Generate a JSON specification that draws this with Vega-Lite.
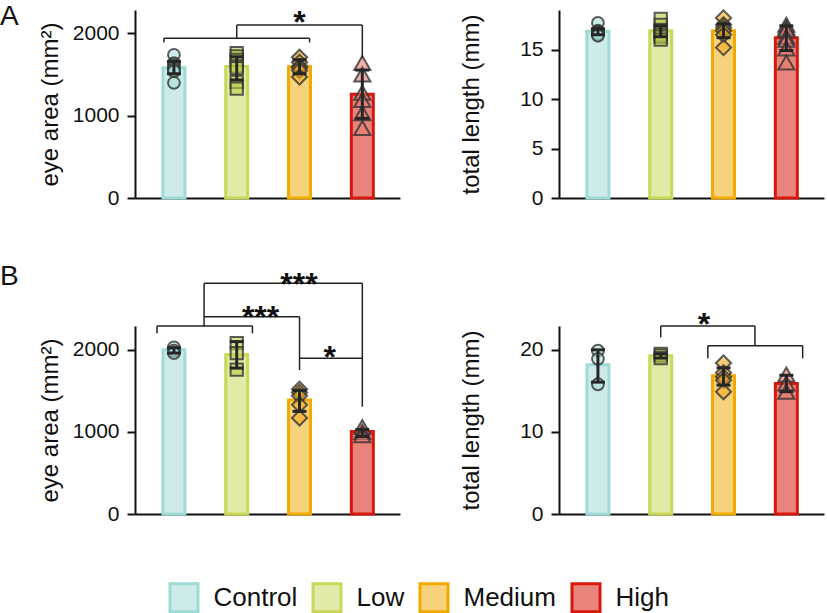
{
  "$schema": "https://vega.github.io/schema/vega-lite/v6.json",
  "autosize": {"type": "none"},
  "padding": {"left": 135, "top": 10, "right": 692, "bottom": 603},
  "bounds": "flush",
  "columns": 2,
  "spacing": {"row": 128, "column": 159},
  "datasets": {
    "points": [
      {"panel": "A1", "grp": "Control", "pos": 1, "v": 1740, "rep": 4},
      {"panel": "A1", "grp": "Control", "pos": 1, "v": 1640, "rep": 6},
      {"panel": "A1", "grp": "Control", "pos": 1, "v": 1620, "rep": 2},
      {"panel": "A1", "grp": "Control", "pos": 1, "v": 1580, "rep": 5},
      {"panel": "A1", "grp": "Control", "pos": 1, "v": 1560, "rep": 3},
      {"panel": "A1", "grp": "Control", "pos": 1, "v": 1540, "rep": 7},
      {"panel": "A1", "grp": "Control", "pos": 1, "v": 1400, "rep": 4},
      {"panel": "A1", "grp": "Low", "pos": 2, "v": 1760, "rep": 6},
      {"panel": "A1", "grp": "Low", "pos": 2, "v": 1720, "rep": 5},
      {"panel": "A1", "grp": "Low", "pos": 2, "v": 1680, "rep": 7},
      {"panel": "A1", "grp": "Low", "pos": 2, "v": 1600, "rep": 3},
      {"panel": "A1", "grp": "Low", "pos": 2, "v": 1580, "rep": 2},
      {"panel": "A1", "grp": "Low", "pos": 2, "v": 1410, "rep": 4},
      {"panel": "A1", "grp": "Low", "pos": 2, "v": 1330, "rep": 4},
      {"panel": "A1", "grp": "Medium", "pos": 3, "v": 1710, "rep": 5},
      {"panel": "A1", "grp": "Medium", "pos": 3, "v": 1650, "rep": 3},
      {"panel": "A1", "grp": "Medium", "pos": 3, "v": 1600, "rep": 6},
      {"panel": "A1", "grp": "Medium", "pos": 3, "v": 1580, "rep": 2},
      {"panel": "A1", "grp": "Medium", "pos": 3, "v": 1550, "rep": 4},
      {"panel": "A1", "grp": "Medium", "pos": 3, "v": 1470, "rep": 4},
      {"panel": "A1", "grp": "High", "pos": 4, "v": 1640, "rep": 4},
      {"panel": "A1", "grp": "High", "pos": 4, "v": 1500, "rep": 4},
      {"panel": "A1", "grp": "High", "pos": 4, "v": 1280, "rep": 3},
      {"panel": "A1", "grp": "High", "pos": 4, "v": 1190, "rep": 5},
      {"panel": "A1", "grp": "High", "pos": 4, "v": 1030, "rep": 4},
      {"panel": "A1", "grp": "High", "pos": 4, "v": 850, "rep": 4},
      {"panel": "A2", "grp": "Control", "pos": 1, "v": 17.7, "rep": 4},
      {"panel": "A2", "grp": "Control", "pos": 1, "v": 16.9, "rep": 2},
      {"panel": "A2", "grp": "Control", "pos": 1, "v": 16.8, "rep": 6},
      {"panel": "A2", "grp": "Control", "pos": 1, "v": 16.7, "rep": 3},
      {"panel": "A2", "grp": "Control", "pos": 1, "v": 16.6, "rep": 5},
      {"panel": "A2", "grp": "Control", "pos": 1, "v": 16.5, "rep": 7},
      {"panel": "A2", "grp": "Control", "pos": 1, "v": 16.4, "rep": 1},
      {"panel": "A2", "grp": "Low", "pos": 2, "v": 18.1, "rep": 2},
      {"panel": "A2", "grp": "Low", "pos": 2, "v": 17.5, "rep": 6},
      {"panel": "A2", "grp": "Low", "pos": 2, "v": 17.0, "rep": 4},
      {"panel": "A2", "grp": "Low", "pos": 2, "v": 16.8, "rep": 1},
      {"panel": "A2", "grp": "Low", "pos": 2, "v": 16.5, "rep": 7},
      {"panel": "A2", "grp": "Low", "pos": 2, "v": 16.3, "rep": 3},
      {"panel": "A2", "grp": "Low", "pos": 2, "v": 16.0, "rep": 5},
      {"panel": "A2", "grp": "Medium", "pos": 3, "v": 18.2, "rep": 6},
      {"panel": "A2", "grp": "Medium", "pos": 3, "v": 17.5, "rep": 2},
      {"panel": "A2", "grp": "Medium", "pos": 3, "v": 17.2, "rep": 5},
      {"panel": "A2", "grp": "Medium", "pos": 3, "v": 16.9, "rep": 3},
      {"panel": "A2", "grp": "Medium", "pos": 3, "v": 16.5, "rep": 7},
      {"panel": "A2", "grp": "Medium", "pos": 3, "v": 15.2, "rep": 4},
      {"panel": "A2", "grp": "High", "pos": 4, "v": 17.5, "rep": 4},
      {"panel": "A2", "grp": "High", "pos": 4, "v": 17.2, "rep": 2},
      {"panel": "A2", "grp": "High", "pos": 4, "v": 17.0, "rep": 6},
      {"panel": "A2", "grp": "High", "pos": 4, "v": 16.3, "rep": 7},
      {"panel": "A2", "grp": "High", "pos": 4, "v": 16.0, "rep": 5},
      {"panel": "A2", "grp": "High", "pos": 4, "v": 15.1, "rep": 6},
      {"panel": "A2", "grp": "High", "pos": 4, "v": 13.7, "rep": 2},
      {"panel": "B1", "grp": "Control", "pos": 1, "v": 2030, "rep": 4},
      {"panel": "B1", "grp": "Control", "pos": 1, "v": 1990, "rep": 4},
      {"panel": "B1", "grp": "Control", "pos": 1, "v": 1960, "rep": 4},
      {"panel": "B1", "grp": "Low", "pos": 2, "v": 2080, "rep": 4},
      {"panel": "B1", "grp": "Low", "pos": 2, "v": 1960, "rep": 4},
      {"panel": "B1", "grp": "Low", "pos": 2, "v": 1760, "rep": 4},
      {"panel": "B1", "grp": "Medium", "pos": 3, "v": 1520, "rep": 5},
      {"panel": "B1", "grp": "Medium", "pos": 3, "v": 1480, "rep": 6},
      {"panel": "B1", "grp": "Medium", "pos": 3, "v": 1440, "rep": 4},
      {"panel": "B1", "grp": "Medium", "pos": 3, "v": 1330, "rep": 3},
      {"panel": "B1", "grp": "Medium", "pos": 3, "v": 1170, "rep": 4},
      {"panel": "B1", "grp": "High", "pos": 4, "v": 1060, "rep": 4},
      {"panel": "B1", "grp": "High", "pos": 4, "v": 1000, "rep": 4},
      {"panel": "B1", "grp": "High", "pos": 4, "v": 960, "rep": 4},
      {"panel": "B2", "grp": "Control", "pos": 1, "v": 19.9, "rep": 4},
      {"panel": "B2", "grp": "Control", "pos": 1, "v": 18.9, "rep": 2},
      {"panel": "B2", "grp": "Control", "pos": 1, "v": 15.8, "rep": 3},
      {"panel": "B2", "grp": "Low", "pos": 2, "v": 19.5, "rep": 3},
      {"panel": "B2", "grp": "Low", "pos": 2, "v": 19.3, "rep": 5},
      {"panel": "B2", "grp": "Low", "pos": 2, "v": 19.0, "rep": 6},
      {"panel": "B2", "grp": "Medium", "pos": 3, "v": 18.4, "rep": 3},
      {"panel": "B2", "grp": "Medium", "pos": 3, "v": 17.2, "rep": 5},
      {"panel": "B2", "grp": "Medium", "pos": 3, "v": 16.7, "rep": 6},
      {"panel": "B2", "grp": "Medium", "pos": 3, "v": 16.3, "rep": 2},
      {"panel": "B2", "grp": "Medium", "pos": 3, "v": 14.9, "rep": 3},
      {"panel": "B2", "grp": "High", "pos": 4, "v": 17.0, "rep": 5},
      {"panel": "B2", "grp": "High", "pos": 4, "v": 15.9, "rep": 3},
      {"panel": "B2", "grp": "High", "pos": 4, "v": 14.9, "rep": 4}
    ],
    "summary": [
      {"panel": "A1", "group": "Control", "pos": 1, "v": 1583, "lo": 1510, "hi": 1660},
      {"panel": "A1", "group": "Low", "pos": 2, "v": 1598, "lo": 1434, "hi": 1717},
      {"panel": "A1", "group": "Medium", "pos": 3, "v": 1595, "lo": 1510, "hi": 1680},
      {"panel": "A1", "group": "High", "pos": 4, "v": 1262, "lo": 968, "hi": 1555},
      {"panel": "A2", "group": "Control", "pos": 1, "v": 16.85, "lo": 16.5, "hi": 17.1},
      {"panel": "A2", "group": "Low", "pos": 2, "v": 16.9, "lo": 16.3, "hi": 17.4},
      {"panel": "A2", "group": "Medium", "pos": 3, "v": 16.9, "lo": 16.2, "hi": 17.6},
      {"panel": "A2", "group": "High", "pos": 4, "v": 16.2, "lo": 14.9, "hi": 17.4},
      {"panel": "B1", "group": "Control", "pos": 1, "v": 2000, "lo": 1960, "hi": 2025},
      {"panel": "B1", "group": "Low", "pos": 2, "v": 1939, "lo": 1777, "hi": 2100},
      {"panel": "B1", "group": "Medium", "pos": 3, "v": 1390, "lo": 1250, "hi": 1505},
      {"panel": "B1", "group": "High", "pos": 4, "v": 1004, "lo": 945, "hi": 1030},
      {"panel": "B2", "group": "Control", "pos": 1, "v": 18.17, "lo": 16.06, "hi": 20.0},
      {"panel": "B2", "group": "Low", "pos": 2, "v": 19.27, "lo": 19.0, "hi": 19.5},
      {"panel": "B2", "group": "Medium", "pos": 3, "v": 16.83, "lo": 15.7, "hi": 17.8},
      {"panel": "B2", "group": "High", "pos": 4, "v": 15.9, "lo": 14.9, "hi": 16.9}
    ],
    "segs": [
      {"panel": "A1", "pos": 0.84, "pos2": 0.84, "v": 1890, "v2": 1941},
      {"panel": "A1", "pos": 0.84, "pos2": 3.16, "v": 1941, "v2": 1941},
      {"panel": "A1", "pos": 3.16, "pos2": 3.16, "v": 1890, "v2": 1941},
      {"panel": "A1", "pos": 2.0, "pos2": 2.0, "v": 1941, "v2": 2103},
      {"panel": "A1", "pos": 2.0, "pos2": 4.0, "v": 2103, "v2": 2103},
      {"panel": "A1", "pos": 4.0, "pos2": 4.0, "v": 1700, "v2": 2103},
      {"panel": "B1", "pos": 0.73, "pos2": 0.73, "v": 2201, "v2": 2290},
      {"panel": "B1", "pos": 0.73, "pos2": 2.25, "v": 2290, "v2": 2290},
      {"panel": "B1", "pos": 2.25, "pos2": 2.25, "v": 2201, "v2": 2290},
      {"panel": "B1", "pos": 1.48, "pos2": 1.48, "v": 2290, "v2": 2810},
      {"panel": "B1", "pos": 1.48, "pos2": 3.0, "v": 2403, "v2": 2403},
      {"panel": "B1", "pos": 3.0, "pos2": 3.0, "v": 1754, "v2": 2403},
      {"panel": "B1", "pos": 1.48, "pos2": 4.0, "v": 2810, "v2": 2810},
      {"panel": "B1", "pos": 4.0, "pos2": 4.0, "v": 1307, "v2": 2810},
      {"panel": "B1", "pos": 3.0, "pos2": 4.0, "v": 1896, "v2": 1896},
      {"panel": "B2", "pos": 2.0, "pos2": 2.0, "v": 21.52, "v2": 22.9},
      {"panel": "B2", "pos": 2.0, "pos2": 3.5, "v": 22.9, "v2": 22.9},
      {"panel": "B2", "pos": 3.5, "pos2": 3.5, "v": 20.5, "v2": 22.9},
      {"panel": "B2", "pos": 2.75, "pos2": 4.26, "v": 20.5, "v2": 20.5},
      {"panel": "B2", "pos": 2.75, "pos2": 2.75, "v": 18.96, "v2": 20.5},
      {"panel": "B2", "pos": 4.26, "pos2": 4.26, "v": 18.96, "v2": 20.5}
    ],
    "stars": [
      {"panel": "A1", "pos": 3.0, "v": 2008, "label": "*"},
      {"panel": "B1", "pos": 2.99, "v": 2671, "label": "***"},
      {"panel": "B1", "pos": 2.38, "v": 2269, "label": "***"},
      {"panel": "B1", "pos": 3.48, "v": 1782, "label": "*"},
      {"panel": "B2", "pos": 2.69, "v": 21.75, "label": "*"}
    ]
  },
  "concat": [
    {
      "width": 265, "height": 188,
      "title": {"text": "A", "dx": -135, "dy": 28},
      "layer": [
        {"data": {"name": "summary"}, "transform": [{"filter": "datum.panel === 'A1'"}],
         "mark": {"type": "bar", "width": 22, "strokeWidth": 3},
         "encoding": {
           "x": {"field": "pos", "type": "quantitative", "scale": {"domain": [0.38, 4.6], "nice": false, "zero": false, "padding": 0}, "axis": {"labels": false, "ticks": false, "title": null}},
           "y": {"field": "v", "type": "quantitative", "scale": {"domain": [0, 2285], "nice": false, "padding": 0}, "axis": {"title": "eye area (mm²)", "values": [0, 1000, 2000], "format": "d", "titleX": -73}},
           "fill": {"field": "group", "type": "nominal", "scale": {"domain": ["Control", "Low", "Medium", "High"], "range": ["#cdece9", "#e2eaa7", "#f7d27d", "#e8847b"]}, "legend": {"orient": "none", "legendX": 33.5, "legendY": 572, "direction": "horizontal", "title": null}},
           "stroke": {"field": "group", "type": "nominal", "scale": {"domain": ["Control", "Low", "Medium", "High"], "range": ["#9ddcd6", "#c8d856", "#f2a900", "#d9180c"]}, "legend": {"orient": "none", "legendX": 33.5, "legendY": 572, "direction": "horizontal", "title": null}}
         }},
        {"data": {"name": "points"}, "transform": [{"filter": "datum.panel === 'A1' && datum.grp === 'Control'"}],
         "mark": {"type": "point", "shape": "circle", "size": 140, "filled": true, "fill": "#a8e0da", "opacity": 1, "fillOpacity": 0.6, "stroke": "#333333", "strokeOpacity": 0.8, "strokeWidth": 2},
         "encoding": {"x": {"field": "pos", "type": "quantitative"}, "xOffset": {"field": "rep", "type": "quantitative", "scale": {"domain": [1, 7], "range": [-6, 6]}}, "y": {"field": "v", "type": "quantitative"}}},
        {"data": {"name": "points"}, "transform": [{"filter": "datum.panel === 'A1' && datum.grp === 'Low'"}],
         "mark": {"type": "point", "shape": "square", "size": 150, "filled": true, "fill": "#c0cc4a", "opacity": 1, "fillOpacity": 0.6, "stroke": "#333333", "strokeOpacity": 0.8, "strokeWidth": 2},
         "encoding": {"x": {"field": "pos", "type": "quantitative"}, "xOffset": {"field": "rep", "type": "quantitative"}, "y": {"field": "v", "type": "quantitative"}}},
        {"data": {"name": "points"}, "transform": [{"filter": "datum.panel === 'A1' && datum.grp === 'Medium'"}],
         "mark": {"type": "point", "shape": "diamond", "size": 230, "filled": true, "fill": "#eeaa1e", "opacity": 1, "fillOpacity": 0.6, "stroke": "#333333", "strokeOpacity": 0.8, "strokeWidth": 2},
         "encoding": {"x": {"field": "pos", "type": "quantitative"}, "xOffset": {"field": "rep", "type": "quantitative"}, "y": {"field": "v", "type": "quantitative"}}},
        {"data": {"name": "points"}, "transform": [{"filter": "datum.panel === 'A1' && datum.grp === 'High'"}],
         "mark": {"type": "point", "shape": "triangle-up", "size": 260, "filled": true, "fill": "#e87c72", "opacity": 1, "fillOpacity": 0.6, "stroke": "#333333", "strokeOpacity": 0.8, "strokeWidth": 2},
         "encoding": {"x": {"field": "pos", "type": "quantitative"}, "xOffset": {"field": "rep", "type": "quantitative"}, "y": {"field": "v", "type": "quantitative"}}},
        {"data": {"name": "summary"}, "transform": [{"filter": "datum.panel === 'A1'"}],
         "mark": {"type": "rule", "strokeWidth": 3, "color": "#262626"},
         "encoding": {"x": {"field": "pos", "type": "quantitative"}, "y": {"field": "lo", "type": "quantitative"}, "y2": {"field": "hi"}}},
        {"data": {"name": "summary"}, "transform": [{"filter": "datum.panel === 'A1'"}],
         "mark": {"type": "tick", "orient": "horizontal", "size": 14, "thickness": 3, "color": "#262626", "opacity": 1},
         "encoding": {"x": {"field": "pos", "type": "quantitative"}, "y": {"field": "lo", "type": "quantitative"}}},
        {"data": {"name": "summary"}, "transform": [{"filter": "datum.panel === 'A1'"}],
         "mark": {"type": "tick", "orient": "horizontal", "size": 14, "thickness": 3, "color": "#262626", "opacity": 1},
         "encoding": {"x": {"field": "pos", "type": "quantitative"}, "y": {"field": "hi", "type": "quantitative"}}},
        {"data": {"name": "segs"}, "transform": [{"filter": "datum.panel === 'A1'"}],
         "mark": {"type": "rule", "strokeWidth": 1.5, "color": "#222222"},
         "encoding": {"x": {"field": "pos", "type": "quantitative"}, "x2": {"field": "pos2"}, "y": {"field": "v", "type": "quantitative"}, "y2": {"field": "v2"}}},
        {"data": {"name": "stars"}, "transform": [{"filter": "datum.panel === 'A1'"}],
         "mark": {"type": "text", "fontSize": 32, "fontWeight": "bold", "baseline": "alphabetic", "align": "center", "color": "#111111"},
         "encoding": {"x": {"field": "pos", "type": "quantitative"}, "y": {"field": "v", "type": "quantitative"}, "text": {"field": "label"}}}
      ]
    },
    {
      "width": 265, "height": 188,
      "layer": [
        {"data": {"name": "summary"}, "transform": [{"filter": "datum.panel === 'A2'"}],
         "mark": {"type": "bar", "width": 22, "strokeWidth": 3},
         "encoding": {
           "x": {"field": "pos", "type": "quantitative", "scale": {"domain": [0.38, 4.6], "nice": false, "zero": false, "padding": 0}, "axis": {"labels": false, "ticks": false, "title": null}},
           "y": {"field": "v", "type": "quantitative", "scale": {"domain": [0, 19], "nice": false, "padding": 0}, "axis": {"title": "total length (mm)", "values": [0, 5, 10, 15], "format": "d", "titleX": -76}},
           "fill": {"field": "group", "type": "nominal", "scale": {"domain": ["Control", "Low", "Medium", "High"], "range": ["#cdece9", "#e2eaa7", "#f7d27d", "#e8847b"]}, "legend": {"orient": "none", "legendX": 33.5, "legendY": 572, "direction": "horizontal", "title": null}},
           "stroke": {"field": "group", "type": "nominal", "scale": {"domain": ["Control", "Low", "Medium", "High"], "range": ["#9ddcd6", "#c8d856", "#f2a900", "#d9180c"]}, "legend": {"orient": "none", "legendX": 33.5, "legendY": 572, "direction": "horizontal", "title": null}}
         }},
        {"data": {"name": "points"}, "transform": [{"filter": "datum.panel === 'A2' && datum.grp === 'Control'"}],
         "mark": {"type": "point", "shape": "circle", "size": 140, "filled": true, "fill": "#a8e0da", "opacity": 1, "fillOpacity": 0.6, "stroke": "#333333", "strokeOpacity": 0.8, "strokeWidth": 2},
         "encoding": {"x": {"field": "pos", "type": "quantitative"}, "xOffset": {"field": "rep", "type": "quantitative", "scale": {"domain": [1, 7], "range": [-6, 6]}}, "y": {"field": "v", "type": "quantitative"}}},
        {"data": {"name": "points"}, "transform": [{"filter": "datum.panel === 'A2' && datum.grp === 'Low'"}],
         "mark": {"type": "point", "shape": "square", "size": 150, "filled": true, "fill": "#c0cc4a", "opacity": 1, "fillOpacity": 0.6, "stroke": "#333333", "strokeOpacity": 0.8, "strokeWidth": 2},
         "encoding": {"x": {"field": "pos", "type": "quantitative"}, "xOffset": {"field": "rep", "type": "quantitative"}, "y": {"field": "v", "type": "quantitative"}}},
        {"data": {"name": "points"}, "transform": [{"filter": "datum.panel === 'A2' && datum.grp === 'Medium'"}],
         "mark": {"type": "point", "shape": "diamond", "size": 230, "filled": true, "fill": "#eeaa1e", "opacity": 1, "fillOpacity": 0.6, "stroke": "#333333", "strokeOpacity": 0.8, "strokeWidth": 2},
         "encoding": {"x": {"field": "pos", "type": "quantitative"}, "xOffset": {"field": "rep", "type": "quantitative"}, "y": {"field": "v", "type": "quantitative"}}},
        {"data": {"name": "points"}, "transform": [{"filter": "datum.panel === 'A2' && datum.grp === 'High'"}],
         "mark": {"type": "point", "shape": "triangle-up", "size": 260, "filled": true, "fill": "#e87c72", "opacity": 1, "fillOpacity": 0.6, "stroke": "#333333", "strokeOpacity": 0.8, "strokeWidth": 2},
         "encoding": {"x": {"field": "pos", "type": "quantitative"}, "xOffset": {"field": "rep", "type": "quantitative"}, "y": {"field": "v", "type": "quantitative"}}},
        {"data": {"name": "summary"}, "transform": [{"filter": "datum.panel === 'A2'"}],
         "mark": {"type": "rule", "strokeWidth": 3, "color": "#262626"},
         "encoding": {"x": {"field": "pos", "type": "quantitative"}, "y": {"field": "lo", "type": "quantitative"}, "y2": {"field": "hi"}}},
        {"data": {"name": "summary"}, "transform": [{"filter": "datum.panel === 'A2'"}],
         "mark": {"type": "tick", "orient": "horizontal", "size": 14, "thickness": 3, "color": "#262626", "opacity": 1},
         "encoding": {"x": {"field": "pos", "type": "quantitative"}, "y": {"field": "lo", "type": "quantitative"}}},
        {"data": {"name": "summary"}, "transform": [{"filter": "datum.panel === 'A2'"}],
         "mark": {"type": "tick", "orient": "horizontal", "size": 14, "thickness": 3, "color": "#262626", "opacity": 1},
         "encoding": {"x": {"field": "pos", "type": "quantitative"}, "y": {"field": "hi", "type": "quantitative"}}}
      ]
    },
    {
      "width": 265, "height": 188,
      "title": {"text": "B", "dx": -135, "dy": 26},
      "layer": [
        {"data": {"name": "summary"}, "transform": [{"filter": "datum.panel === 'B1'"}],
         "mark": {"type": "bar", "width": 22, "strokeWidth": 3},
         "encoding": {
           "x": {"field": "pos", "type": "quantitative", "scale": {"domain": [0.38, 4.6], "nice": false, "zero": false, "padding": 0}, "axis": {"labels": false, "ticks": false, "title": null}},
           "y": {"field": "v", "type": "quantitative", "scale": {"domain": [0, 2290], "nice": false, "padding": 0}, "axis": {"title": "eye area (mm²)", "values": [0, 1000, 2000], "format": "d", "titleX": -73}},
           "fill": {"field": "group", "type": "nominal", "scale": {"domain": ["Control", "Low", "Medium", "High"], "range": ["#cdece9", "#e2eaa7", "#f7d27d", "#e8847b"]}, "legend": {"orient": "none", "legendX": 33.5, "legendY": 572, "direction": "horizontal", "title": null}},
           "stroke": {"field": "group", "type": "nominal", "scale": {"domain": ["Control", "Low", "Medium", "High"], "range": ["#9ddcd6", "#c8d856", "#f2a900", "#d9180c"]}, "legend": {"orient": "none", "legendX": 33.5, "legendY": 572, "direction": "horizontal", "title": null}}
         }},
        {"data": {"name": "points"}, "transform": [{"filter": "datum.panel === 'B1' && datum.grp === 'Control'"}],
         "mark": {"type": "point", "shape": "circle", "size": 140, "filled": true, "fill": "#a8e0da", "opacity": 1, "fillOpacity": 0.6, "stroke": "#333333", "strokeOpacity": 0.8, "strokeWidth": 2},
         "encoding": {"x": {"field": "pos", "type": "quantitative"}, "xOffset": {"field": "rep", "type": "quantitative", "scale": {"domain": [1, 7], "range": [-6, 6]}}, "y": {"field": "v", "type": "quantitative"}}},
        {"data": {"name": "points"}, "transform": [{"filter": "datum.panel === 'B1' && datum.grp === 'Low'"}],
         "mark": {"type": "point", "shape": "square", "size": 150, "filled": true, "fill": "#c0cc4a", "opacity": 1, "fillOpacity": 0.6, "stroke": "#333333", "strokeOpacity": 0.8, "strokeWidth": 2},
         "encoding": {"x": {"field": "pos", "type": "quantitative"}, "xOffset": {"field": "rep", "type": "quantitative"}, "y": {"field": "v", "type": "quantitative"}}},
        {"data": {"name": "points"}, "transform": [{"filter": "datum.panel === 'B1' && datum.grp === 'Medium'"}],
         "mark": {"type": "point", "shape": "diamond", "size": 230, "filled": true, "fill": "#eeaa1e", "opacity": 1, "fillOpacity": 0.6, "stroke": "#333333", "strokeOpacity": 0.8, "strokeWidth": 2},
         "encoding": {"x": {"field": "pos", "type": "quantitative"}, "xOffset": {"field": "rep", "type": "quantitative"}, "y": {"field": "v", "type": "quantitative"}}},
        {"data": {"name": "points"}, "transform": [{"filter": "datum.panel === 'B1' && datum.grp === 'High'"}],
         "mark": {"type": "point", "shape": "triangle-up", "size": 260, "filled": true, "fill": "#e87c72", "opacity": 1, "fillOpacity": 0.6, "stroke": "#333333", "strokeOpacity": 0.8, "strokeWidth": 2},
         "encoding": {"x": {"field": "pos", "type": "quantitative"}, "xOffset": {"field": "rep", "type": "quantitative"}, "y": {"field": "v", "type": "quantitative"}}},
        {"data": {"name": "summary"}, "transform": [{"filter": "datum.panel === 'B1'"}],
         "mark": {"type": "rule", "strokeWidth": 3, "color": "#262626"},
         "encoding": {"x": {"field": "pos", "type": "quantitative"}, "y": {"field": "lo", "type": "quantitative"}, "y2": {"field": "hi"}}},
        {"data": {"name": "summary"}, "transform": [{"filter": "datum.panel === 'B1'"}],
         "mark": {"type": "tick", "orient": "horizontal", "size": 14, "thickness": 3, "color": "#262626", "opacity": 1},
         "encoding": {"x": {"field": "pos", "type": "quantitative"}, "y": {"field": "lo", "type": "quantitative"}}},
        {"data": {"name": "summary"}, "transform": [{"filter": "datum.panel === 'B1'"}],
         "mark": {"type": "tick", "orient": "horizontal", "size": 14, "thickness": 3, "color": "#262626", "opacity": 1},
         "encoding": {"x": {"field": "pos", "type": "quantitative"}, "y": {"field": "hi", "type": "quantitative"}}},
        {"data": {"name": "segs"}, "transform": [{"filter": "datum.panel === 'B1'"}],
         "mark": {"type": "rule", "strokeWidth": 1.5, "color": "#222222"},
         "encoding": {"x": {"field": "pos", "type": "quantitative"}, "x2": {"field": "pos2"}, "y": {"field": "v", "type": "quantitative"}, "y2": {"field": "v2"}}},
        {"data": {"name": "stars"}, "transform": [{"filter": "datum.panel === 'B1'"}],
         "mark": {"type": "text", "fontSize": 32, "fontWeight": "bold", "baseline": "alphabetic", "align": "center", "color": "#111111"},
         "encoding": {"x": {"field": "pos", "type": "quantitative"}, "y": {"field": "v", "type": "quantitative"}, "text": {"field": "label"}}}
      ]
    },
    {
      "width": 265, "height": 188,
      "layer": [
        {"data": {"name": "summary"}, "transform": [{"filter": "datum.panel === 'B2'"}],
         "mark": {"type": "bar", "width": 22, "strokeWidth": 3},
         "encoding": {
           "x": {"field": "pos", "type": "quantitative", "scale": {"domain": [0.38, 4.6], "nice": false, "zero": false, "padding": 0}, "axis": {"labels": false, "ticks": false, "title": null}},
           "y": {"field": "v", "type": "quantitative", "scale": {"domain": [0, 22.9], "nice": false, "padding": 0}, "axis": {"title": "total length (mm)", "values": [0, 10, 20], "format": "d", "titleX": -76}},
           "fill": {"field": "group", "type": "nominal", "scale": {"domain": ["Control", "Low", "Medium", "High"], "range": ["#cdece9", "#e2eaa7", "#f7d27d", "#e8847b"]}, "legend": {"orient": "none", "legendX": 33.5, "legendY": 572, "direction": "horizontal", "title": null}},
           "stroke": {"field": "group", "type": "nominal", "scale": {"domain": ["Control", "Low", "Medium", "High"], "range": ["#9ddcd6", "#c8d856", "#f2a900", "#d9180c"]}, "legend": {"orient": "none", "legendX": 33.5, "legendY": 572, "direction": "horizontal", "title": null}}
         }},
        {"data": {"name": "points"}, "transform": [{"filter": "datum.panel === 'B2' && datum.grp === 'Control'"}],
         "mark": {"type": "point", "shape": "circle", "size": 140, "filled": true, "fill": "#a8e0da", "opacity": 1, "fillOpacity": 0.6, "stroke": "#333333", "strokeOpacity": 0.8, "strokeWidth": 2},
         "encoding": {"x": {"field": "pos", "type": "quantitative"}, "xOffset": {"field": "rep", "type": "quantitative", "scale": {"domain": [1, 7], "range": [-6, 6]}}, "y": {"field": "v", "type": "quantitative"}}},
        {"data": {"name": "points"}, "transform": [{"filter": "datum.panel === 'B2' && datum.grp === 'Low'"}],
         "mark": {"type": "point", "shape": "square", "size": 150, "filled": true, "fill": "#c0cc4a", "opacity": 1, "fillOpacity": 0.6, "stroke": "#333333", "strokeOpacity": 0.8, "strokeWidth": 2},
         "encoding": {"x": {"field": "pos", "type": "quantitative"}, "xOffset": {"field": "rep", "type": "quantitative"}, "y": {"field": "v", "type": "quantitative"}}},
        {"data": {"name": "points"}, "transform": [{"filter": "datum.panel === 'B2' && datum.grp === 'Medium'"}],
         "mark": {"type": "point", "shape": "diamond", "size": 230, "filled": true, "fill": "#eeaa1e", "opacity": 1, "fillOpacity": 0.6, "stroke": "#333333", "strokeOpacity": 0.8, "strokeWidth": 2},
         "encoding": {"x": {"field": "pos", "type": "quantitative"}, "xOffset": {"field": "rep", "type": "quantitative"}, "y": {"field": "v", "type": "quantitative"}}},
        {"data": {"name": "points"}, "transform": [{"filter": "datum.panel === 'B2' && datum.grp === 'High'"}],
         "mark": {"type": "point", "shape": "triangle-up", "size": 260, "filled": true, "fill": "#e87c72", "opacity": 1, "fillOpacity": 0.6, "stroke": "#333333", "strokeOpacity": 0.8, "strokeWidth": 2},
         "encoding": {"x": {"field": "pos", "type": "quantitative"}, "xOffset": {"field": "rep", "type": "quantitative"}, "y": {"field": "v", "type": "quantitative"}}},
        {"data": {"name": "summary"}, "transform": [{"filter": "datum.panel === 'B2'"}],
         "mark": {"type": "rule", "strokeWidth": 3, "color": "#262626"},
         "encoding": {"x": {"field": "pos", "type": "quantitative"}, "y": {"field": "lo", "type": "quantitative"}, "y2": {"field": "hi"}}},
        {"data": {"name": "summary"}, "transform": [{"filter": "datum.panel === 'B2'"}],
         "mark": {"type": "tick", "orient": "horizontal", "size": 14, "thickness": 3, "color": "#262626", "opacity": 1},
         "encoding": {"x": {"field": "pos", "type": "quantitative"}, "y": {"field": "lo", "type": "quantitative"}}},
        {"data": {"name": "summary"}, "transform": [{"filter": "datum.panel === 'B2'"}],
         "mark": {"type": "tick", "orient": "horizontal", "size": 14, "thickness": 3, "color": "#262626", "opacity": 1},
         "encoding": {"x": {"field": "pos", "type": "quantitative"}, "y": {"field": "hi", "type": "quantitative"}}},
        {"data": {"name": "segs"}, "transform": [{"filter": "datum.panel === 'B2'"}],
         "mark": {"type": "rule", "strokeWidth": 1.5, "color": "#222222"},
         "encoding": {"x": {"field": "pos", "type": "quantitative"}, "x2": {"field": "pos2"}, "y": {"field": "v", "type": "quantitative"}, "y2": {"field": "v2"}}},
        {"data": {"name": "stars"}, "transform": [{"filter": "datum.panel === 'B2'"}],
         "mark": {"type": "text", "fontSize": 32, "fontWeight": "bold", "baseline": "alphabetic", "align": "center", "color": "#111111"},
         "encoding": {"x": {"field": "pos", "type": "quantitative"}, "y": {"field": "v", "type": "quantitative"}, "text": {"field": "label"}}}
      ]
    }
  ],
  "config": {
    "font": "Liberation Sans",
    "view": {"stroke": null},
    "axis": {"grid": false, "domainColor": "#111111", "domainWidth": 2, "tickColor": "#111111", "tickWidth": 2, "tickSize": 8, "labelPadding": 8, "labelFont": "Liberation Sans", "labelFontSize": 21, "labelColor": "#111111", "titleFont": "Liberation Sans", "titleFontSize": 24, "titleFontWeight": "normal", "titleColor": "#111111"},
    "legend": {"symbolType": "square", "symbolSize": 784, "symbolStrokeWidth": 3, "symbolOpacity": 1, "labelFont": "Liberation Sans", "labelFontSize": 26, "labelColor": "#111111", "labelOffset": 14, "columnPadding": 9, "padding": 0},
    "title": {"font": "Liberation Sans", "fontSize": 28, "fontWeight": "normal", "anchor": "start", "frame": "group", "color": "#111111", "baseline": "alphabetic", "offset": 0}
  }
}
